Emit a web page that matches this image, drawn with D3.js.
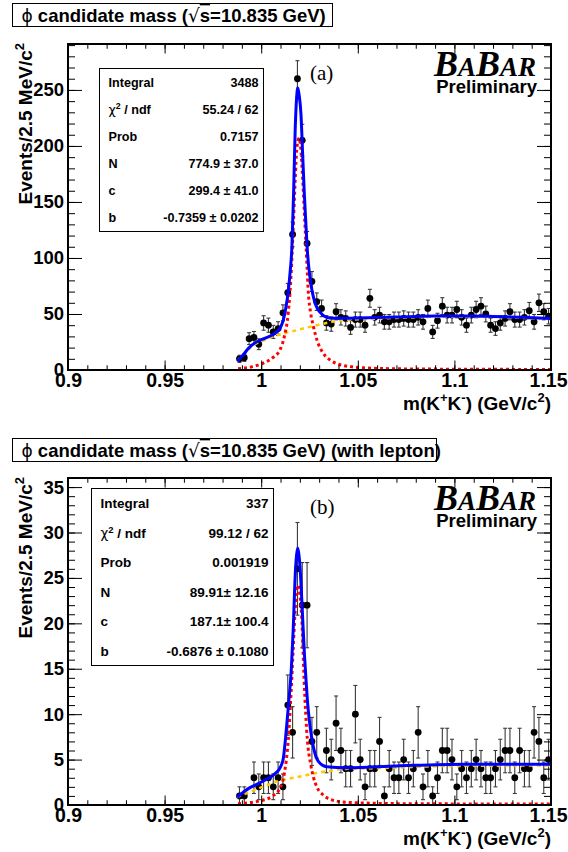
<!DOCTYPE html>
<html>
<head>
<meta charset="utf-8">
<script src="https://cdn.jsdelivr.net/npm/d3@7"></script>
<style>
  body { margin: 0; background: #fff; }
  svg { display: block; font-family: "Liberation Sans", Arial, Helvetica, sans-serif; }
</style>
</head>
<body>
<div id="chart"></div>
<script>
// histogram binning: 2.5 MeV bins starting at the KK threshold
const histLow = 0.9875;
const histBinWidth = 0.0025;

// events per bin, all candidates (a)
const countsAll = [10, 11, 28, 29, 23, 42, 40, 34, 37, 51,
                   69, 121, 260, 205, 113, 79, 61, 55, 42, 41,
                   52, 47, 46, 38, 45, 45, 40, 64, 47, 49,
                   43, 43, 45, 45, 46, 45, 45, 47, 43, 55,
                   34, 44, 57, 49, 49, 54, 47, 40, 49, 54,
                   57, 50, 40, 37, 42, 46, 52, 45, 45, 47,
                   53, 43, 60, 52, 48];

// events per bin, with lepton (b)
const countsLepton = [1, 1, 0, 3, 2, 3, 3, 2, 3, 2,
                      11, 8, 26, 22, 22, 7, 8, 0, 6, 5,
                      9, 6, 4, 4, 10, 5, 2, 4, 4, 7,
                      1, 4, 3, 3, 5, 3, 4, 8, 2, 4,
                      1, 3, 6, 6, 5, 2, 4, 3, 4, 5,
                      4, 3, 3, 4, 5, 6, 6, 3, 6, 4,
                      4, 8, 7, 3, 5];

// fit curves: [mass, events]
const fitTotalAll = [[0.9876, 8], [0.9900, 12], [0.9935, 19.5], [0.9975, 25], [1.0021, 28.5],
    [1.0073, 33], [1.0100, 38], [1.0115, 45], [1.0127, 55], [1.0140, 70], [1.0150, 88],
    [1.0159, 110], [1.0168, 160], [1.0176, 215], [1.0183, 242], [1.0189, 252], [1.0196, 246],
    [1.0206, 228], [1.0214, 195], [1.0223, 158], [1.0232, 128], [1.0240, 104], [1.0250, 86],
    [1.0263, 71], [1.0275, 62], [1.0289, 55.5], [1.0318, 49.3], [1.0340, 47], [1.0370, 46.2],
    [1.045, 46.3], [1.06, 46.8], [1.07, 47.3], [1.09, 48.2], [1.105, 48.3], [1.12, 47.8],
    [1.135, 47], [1.15, 46]];
const fitSignalAll = [[0.9880, 1.2], [0.9950, 2.8], [1.0011, 6.2], [1.0060, 11], [1.0097, 18],
    [1.0120, 30], [1.0140, 51], [1.0153, 80], [1.0166, 128], [1.0176, 170], [1.0184, 197],
    [1.0195, 207], [1.0206, 195], [1.0215, 170], [1.0227, 128], [1.0238, 90], [1.0244, 69],
    [1.0255, 52], [1.0270, 39], [1.0290, 26], [1.0321, 15], [1.0360, 8.5], [1.0408, 4.7],
    [1.0470, 2.8], [1.0530, 1.9], [1.0700, 1.1], [1.0900, 0.8], [1.1200, 0.6], [1.1500, 0.5]];
const fitBkgAll = [[0.9876, 8], [0.9920, 16], [0.9952, 21], [1.0021, 27], [1.0091, 31.5],
    [1.0159, 34.4], [1.0228, 37.5], [1.0298, 40.4], [1.0367, 43], [1.0418, 44.5], [1.0500, 45.2],
    [1.0700, 46.5], [1.0900, 47.5], [1.1050, 47.6], [1.1200, 47.2], [1.1350, 46.5], [1.1500, 45.6]];

const fitTotalLepton = [[0.9876, 0.85], [0.9935, 1.83], [0.9980, 2.3], [1.0021, 2.75], [1.0073, 3.48],
    [1.0100, 4.2], [1.0115, 5.2], [1.0125, 7.15], [1.0135, 9.5], [1.0142, 11.2], [1.0156, 15],
    [1.0166, 19.5], [1.0175, 24.8], [1.0183, 27.5], [1.0189, 28.3], [1.0195, 27.6], [1.0201, 26.2],
    [1.0208, 23.5], [1.0215, 20.4], [1.0224, 16.5], [1.0232, 13.8], [1.0240, 11.3], [1.0249, 9.35],
    [1.0260, 7.6], [1.0270, 6.4], [1.0296, 4.8], [1.0339, 4.2], [1.0443, 4.1], [1.0700, 4.3],
    [1.1046, 4.5], [1.1500, 4.5]];
const fitSignalLepton = [[0.9880, 0.15], [1.0011, 0.55], [1.0060, 1.0], [1.0097, 1.84], [1.0120, 3.5],
    [1.0140, 7.15], [1.0155, 12.5], [1.0166, 17.4], [1.0176, 21.5], [1.0184, 23.7], [1.0192, 24.2],
    [1.0200, 23.2], [1.0210, 20.5], [1.0222, 13.8], [1.0239, 7.15], [1.0255, 4.6], [1.0270, 3.1],
    [1.0290, 1.9], [1.0321, 1.1], [1.0360, 0.6], [1.0443, 0.3], [1.0700, 0.15], [1.1500, 0.1]];
const fitBkgLepton = [[0.9875, 0.85], [0.9987, 1.83], [1.0108, 2.75], [1.0194, 3.1], [1.0280, 3.5],
    [1.0367, 3.8], [1.0418, 3.96], [1.0600, 4.05], [1.1000, 4.3], [1.1500, 4.35]];

// axis ticks
const xTicks = [0.9, 0.95, 1, 1.05, 1.1, 1.15];
const xTickLabels = ["0.9", "0.95", "1", "1.05", "1.1", "1.15"];
const yTicksAll = [0, 50, 100, 150, 200, 250];
const yTicksLepton = [0, 5, 10, 15, 20, 25, 30, 35];

// fit statistics boxes
const statsLabels = ["Integral", "chi2", "Prob", "N", "c", "b"];
const statsAll = ["3488", "55.24 / 62", "0.7157", "774.9 \u00b1 37.0", "299.4 \u00b1 41.0", "-0.7359 \u00b1 0.0202"];
const statsLepton = ["337", "99.12 / 62", "0.001919", "89.91\u00b1 12.16", "187.1\u00b1 100.4", "-0.6876 \u00b1 0.1080"];

const W = 568, H = 852;
const frameLeft = 68, frameRight = 551;

const svg = d3.select("#chart")
    .append("svg")
    .attr("width", W)
    .attr("height", H);

drawPanel({
    id: "a",
    top: 44, bottom: 370, yMax: 291, yMinor: 30,
    yTicks: yTicksAll,
    counts: countsAll,
    total: fitTotalAll, signal: fitSignalAll, bkg: fitBkgAll,
    titleBox: [12.5, 3.5, 320, 23], extraTitle: "",
    stats: statsAll, statsBox: [99.5, 68.5, 164, 163], statsFont: 12.6,
    letter: "(a)"
});

drawPanel({
    id: "b",
    top: 478, bottom: 805, yMax: 36, yMinor: 36,
    yTicks: yTicksLepton,
    counts: countsLepton,
    total: fitTotalLepton, signal: fitSignalLepton, bkg: fitBkgLepton,
    titleBox: [12.5, 438.5, 424, 23], extraTitle: " (with lepton)",
    stats: statsLepton, statsBox: [91.5, 488.5, 182, 177], statsFont: 13.5,
    letter: "(b)"
});

function drawPanel(p) {
    const xScale = d3.scaleLinear()
        .domain([0.9, 1.15])
        .range([frameLeft, frameRight]);

    const yScale = d3.scaleLinear()
        .domain([0, p.yMax])
        .range([p.bottom, p.top]);

    const g = svg.append("g").attr("id", "panel-" + p.id);

    // title box
    const tb = p.titleBox;
    g.append("rect")
        .attr("x", tb[0]).attr("y", tb[1])
        .attr("width", tb[2]).attr("height", tb[3])
        .attr("fill", "#fff")
        .attr("stroke", "#000")
        .attr("stroke-width", 1);

    const title = g.append("text")
        .attr("x", tb[0] + 9)
        .attr("y", tb[1] + 18)
        .attr("font-size", 18.5)
        .attr("font-weight", "bold");
    title.append("tspan")
        .attr("font-family", "DejaVu Sans")
        .attr("font-weight", "normal")
        .attr("font-size", 17)
        .text("\u03d5");
    title.append("tspan").text(" candidate mass (");
    title.append("tspan")
        .attr("font-family", "DejaVu Sans")
        .attr("font-weight", "normal")
        .text("\u221a");
    title.append("tspan")
        .style("text-decoration", "overline")
        .text("s");
    title.append("tspan").text("=10.835 GeV)" + p.extraTitle);

    // clip for marks
    svg.append("clipPath")
        .attr("id", "clip-" + p.id)
        .append("rect")
        .attr("x", frameLeft)
        .attr("y", p.top)
        .attr("width", frameRight - frameLeft)
        .attr("height", p.bottom - p.top);

    const plot = g.append("g").attr("clip-path", "url(#clip-" + p.id + ")");

    // data points with sqrt(N) error bars
    const points = p.counts
        .map((n, i) => ({ m: histLow + (i + 0.5) * histBinWidth, n: n }))
        .filter(d => d.n > 0);

    const bars = plot.append("g")
        .attr("stroke", "#3a3a3a")
        .attr("stroke-width", 1.1);

    bars.selectAll("line.err")
        .data(points)
        .enter()
        .append("line")
        .attr("class", "err")
        .attr("x1", d => xScale(d.m))
        .attr("x2", d => xScale(d.m))
        .attr("y1", d => yScale(d.n + Math.sqrt(d.n)))
        .attr("y2", d => yScale(Math.max(0, d.n - Math.sqrt(d.n))));

    bars.selectAll("line.capTop")
        .data(points)
        .enter()
        .append("line")
        .attr("class", "capTop")
        .attr("x1", d => xScale(d.m) - 2)
        .attr("x2", d => xScale(d.m) + 2)
        .attr("y1", d => yScale(d.n + Math.sqrt(d.n)))
        .attr("y2", d => yScale(d.n + Math.sqrt(d.n)));

    bars.selectAll("line.capBot")
        .data(points)
        .enter()
        .append("line")
        .attr("class", "capBot")
        .attr("x1", d => xScale(d.m) - 2)
        .attr("x2", d => xScale(d.m) + 2)
        .attr("y1", d => yScale(Math.max(0, d.n - Math.sqrt(d.n))))
        .attr("y2", d => yScale(Math.max(0, d.n - Math.sqrt(d.n))));

    plot.append("g")
        .selectAll("circle")
        .data(points)
        .enter()
        .append("circle")
        .attr("cx", d => xScale(d.m))
        .attr("cy", d => yScale(d.n))
        .attr("r", 3.4)
        .attr("fill", "#000");

    // fit curves
    const line = d3.line()
        .x(d => xScale(d[0]))
        .y(d => yScale(d[1]))
        .curve(d3.curveMonotoneX);

    plot.append("path")
        .attr("d", line(p.bkg))
        .attr("fill", "none")
        .attr("stroke", "#ffc800")
        .attr("stroke-width", 2.5)
        .attr("stroke-dasharray", "4,4");

    plot.append("path")
        .attr("d", line(p.signal))
        .attr("fill", "none")
        .attr("stroke", "#ff0000")
        .attr("stroke-width", 3)
        .attr("stroke-dasharray", "3,3");

    plot.append("path")
        .attr("d", line(p.total))
        .attr("fill", "none")
        .attr("stroke", "#0000ff")
        .attr("stroke-width", 3)
        .attr("stroke-linejoin", "round");

    // axes: ticks inside on all four sides
    const yLen = 14, xLen = 9.5;

    const xAxis = g.append("g")
        .attr("transform", "translate(0," + p.bottom + ")")
        .call(d3.axisBottom(xScale).tickValues(xTicks).tickSize(-xLen).tickPadding(3)
            .tickFormat((d, i) => xTickLabels[i]));
    g.append("g")
        .attr("transform", "translate(0," + p.bottom + ")")
        .call(d3.axisBottom(xScale).ticks(25).tickSize(-xLen / 2).tickFormat(""));
    g.append("g")
        .attr("transform", "translate(0," + p.top + ")")
        .call(d3.axisTop(xScale).tickValues(xTicks).tickSize(-xLen).tickFormat(""));
    g.append("g")
        .attr("transform", "translate(0," + p.top + ")")
        .call(d3.axisTop(xScale).ticks(25).tickSize(-xLen / 2).tickFormat(""));

    const yAxis = g.append("g")
        .attr("transform", "translate(" + frameLeft + ",0)")
        .call(d3.axisLeft(yScale).tickValues(p.yTicks).tickSize(-yLen).tickPadding(4));
    g.append("g")
        .attr("transform", "translate(" + frameLeft + ",0)")
        .call(d3.axisLeft(yScale).ticks(p.yMinor).tickSize(-yLen / 2).tickFormat(""));
    g.append("g")
        .attr("transform", "translate(" + frameRight + ",0)")
        .call(d3.axisRight(yScale).tickValues(p.yTicks).tickSize(-yLen).tickFormat(""));
    g.append("g")
        .attr("transform", "translate(" + frameRight + ",0)")
        .call(d3.axisRight(yScale).ticks(p.yMinor).tickSize(-yLen / 2).tickFormat(""));

    g.selectAll(".domain").remove();
    g.selectAll(".tick line").attr("stroke-width", 1);

    xAxis.selectAll("text")
        .attr("font-family", "Liberation Sans, Arial, sans-serif")
        .attr("font-size", 19.5)
        .attr("font-weight", "bold")
        .attr("fill", "#000");
    // last label would run off the page edge, keep it inside
    xAxis.selectAll(".tick:last-of-type text")
        .attr("text-anchor", "end")
        .attr("x", 16);

    yAxis.selectAll("text")
        .attr("font-family", "Liberation Sans, Arial, sans-serif")
        .attr("font-size", 18.5)
        .attr("font-weight", "bold")
        .attr("fill", "#000");

    // frame
    g.append("rect")
        .attr("x", frameLeft)
        .attr("y", p.top)
        .attr("width", frameRight - frameLeft)
        .attr("height", p.bottom - p.top)
        .attr("fill", "none")
        .attr("stroke", "#000")
        .attr("stroke-width", 2);

    // axis titles
    const yTitle = g.append("text")
        .attr("transform", "translate(32," + (p.top - 1) + ") rotate(-90)")
        .attr("text-anchor", "end")
        .attr("font-size", 19)
        .attr("font-weight", "bold");
    yTitle.append("tspan").text("Events/2.5 MeV/c");
    yTitle.append("tspan").attr("font-size", 13).attr("dy", -8).text("2");

    const xTitle = g.append("text")
        .attr("x", frameRight)
        .attr("y", p.bottom + 40)
        .attr("text-anchor", "end")
        .attr("font-size", 19)
        .attr("font-weight", "bold");
    xTitle.append("tspan").text("m(K");
    xTitle.append("tspan").attr("font-size", 13).attr("dy", -8).text("+");
    xTitle.append("tspan").attr("dy", 8).text("K");
    xTitle.append("tspan").attr("font-size", 13).attr("dy", -8).text("-");
    xTitle.append("tspan").attr("dy", 8).text(") (GeV/c");
    xTitle.append("tspan").attr("font-size", 13).attr("dy", -8).text("2");
    xTitle.append("tspan").attr("dy", 8).text(")");

    // stats box
    const sb = p.statsBox;
    g.append("rect")
        .attr("x", sb[0]).attr("y", sb[1])
        .attr("width", sb[2]).attr("height", sb[3])
        .attr("fill", "#fff")
        .attr("stroke", "#000")
        .attr("stroke-width", 1);

    const rowH = sb[3] / statsLabels.length;
    statsLabels.forEach((lab, i) => {
        const yy = sb[1] + rowH * (i + 0.5) + p.statsFont * 0.36;
        const t = g.append("text")
            .attr("x", sb[0] + 9)
            .attr("y", yy)
            .attr("font-size", p.statsFont)
            .attr("font-weight", "bold");
        if (lab === "chi2") {
            t.append("tspan").attr("font-weight", "normal").attr("font-family", "DejaVu Sans").text("\u03c7");
            t.append("tspan").attr("font-size", p.statsFont * 0.7).attr("dy", -5).text("2");
            t.append("tspan").attr("dy", 5).text(" / ndf");
        } else {
            t.text(lab);
        }
        g.append("text")
            .attr("x", sb[0] + sb[2] - 5)
            .attr("y", yy)
            .attr("text-anchor", "end")
            .attr("font-size", p.statsFont)
            .attr("font-weight", "bold")
            .text(p.stats[i]);
    });

    // panel letter
    g.append("text")
        .attr("x", 310)
        .attr("y", p.top + 36)
        .attr("font-family", "Liberation Serif, Times New Roman, serif")
        .attr("font-size", 21)
        .text(p.letter);

    // BaBar logo
    const logo = g.append("text")
        .attr("x", 536)
        .attr("y", p.top + 32)
        .attr("text-anchor", "end")
        .attr("font-family", "Liberation Serif, Times New Roman, serif")
        .attr("font-style", "italic")
        .attr("font-weight", "bold");
    logo.append("tspan").attr("font-size", 36).text("B");
    logo.append("tspan").attr("font-size", 27).text("A");
    logo.append("tspan").attr("font-size", 36).text("B");
    logo.append("tspan").attr("font-size", 27).text("AR");

    g.append("text")
        .attr("x", 537)
        .attr("y", p.top + 49)
        .attr("text-anchor", "end")
        .attr("font-size", 18.5)
        .attr("font-weight", "bold")
        .text("Preliminary");
}
</script>
</body>
</html>
